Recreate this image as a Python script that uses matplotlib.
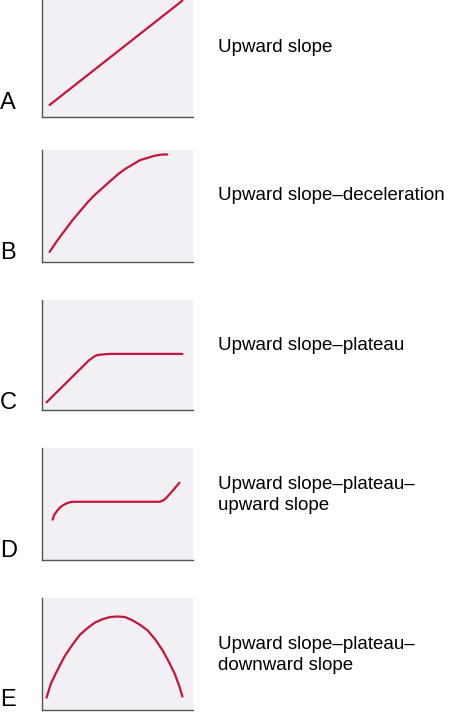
import matplotlib
matplotlib.use("Agg")
import matplotlib.pyplot as plt

W, H = 474, 717
RED, BG, AX = "#c4163a", "#f2eff5", "#555555"

letters = ["A", "B", "C", "D", "E"]
captions = ["Upward slope", "Upward slope\u2013deceleration", "Upward slope\u2013plateau",
            "Upward slope\u2013plateau\u2013\nupward slope", "Upward slope\u2013plateau\u2013\ndownward slope"]
# curves in percent of panel width / height
curve_x = [
    [5, 93],
    [5, 10, 15, 20, 25, 30, 35, 40, 45, 50, 55, 60, 65, 70, 75, 80, 83],
    [3, 31, 33, 35, 37, 40, 45, 50, 93],
    [7, 8, 10, 12, 14, 17, 20, 78, 80, 82, 86, 91],
    [3, 6, 10, 15, 20, 25, 30, 35, 40, 45, 50, 55, 60, 65, 70, 75, 80, 84, 88, 91, 93],
]
curve_y = [
    [10, 97],
    [9, 19, 28, 37, 45, 53, 60, 66, 72, 78, 83, 87, 91, 93, 95, 96, 96],
    [7, 45, 47, 49, 50, 50.5, 51, 51, 51],
    [36, 40, 44, 47, 49, 51, 52, 52, 53, 55, 61, 69],
    [11, 24, 35, 48, 58, 67, 73, 78, 81, 83, 83.5, 83, 80, 76, 71, 63, 53, 43, 32, 21, 12],
]
# panel pixel boxes: top, bottom
boxes = [(-3, 117), (150, 262), (300, 410), (448, 560), (598, 710)]
letter_y = [103, 253, 403, 551, 700]
caption_y = [47, 196, 346, 495, 655]

fig = plt.figure(figsize=(W / 100, H / 100), dpi=100)
for i in range(5):
    top, bot = boxes[i]
    ax = fig.add_axes([42 / W, 1 - bot / H, 151 / W, (bot - top) / H])
    ax.set_facecolor(BG)
    ax.plot(curve_x[i], curve_y[i], color=RED, lw=1.6, solid_capstyle="round")
    ax.set_xlim(0, 100); ax.set_ylim(0, 100)
    ax.set_xticks([]); ax.set_yticks([])
    for s in ("top", "right"):
        ax.spines[s].set_visible(False)
    for s in ("left", "bottom"):
        ax.spines[s].set_color(AX); ax.spines[s].set_linewidth(1)
    fig.text(0 / W, 1 - letter_y[i] / H, letters[i], fontsize=17, va="center", ha="left",
             family="Liberation Sans")
    fig.text(218 / W, 1 - caption_y[i] / H, captions[i], fontsize=13.5, va="center", ha="left",
             family="Liberation Sans", linespacing=1.25)

fig.savefig("out.png", dpi=100)
